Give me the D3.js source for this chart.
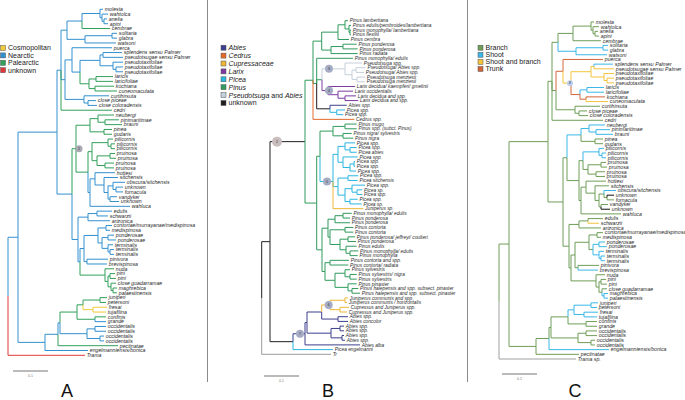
<!DOCTYPE html>
<html><head><meta charset="utf-8">
<script src="https://cdn.jsdelivr.net/npm/d3@7"></script>
<style>body{margin:0;background:#fff}svg{display:block}</style>
</head><body>
<svg id="c" width="685" height="400"></svg>
<script>
// ---------------- DATA ----------------
// Tip labels, in tree order (top to bottom)
const tipsA = ["molesta","wahtolca","anelia","apini","cembrae","solitaria","glabra","watsoni","puerca",
 "splendens sensu Palmer","pseudotsugae sensu Palmer","pseudotaxifoliae","pseudotaxifoliae","pseudotaxifoliae",
 "laricis","laricifoliae","kochiana","cuneomaculata","curtihirsuta","close piceae","close coloradensis","cedri",
 "neubergi","pinimaritimae","brauni","pinea","gudaris","pilicornis","pilicornis","pilicornis",
 "pruinosa","pruinosa","pruinosa","pruinosa","hottesi","sitchensis","obscura/sitchensis","unknown","fornacula",
 "vandykei","unknown","wahluca","edulis","schwarzii","arizonica","contortae/murrayanae/medispinosa","medispinosa",
 "ponderosae","ponderosae","terminalis","terminalis","terminalis","pinivora","brevispinosa","nuda","pini","pini",
 "close guadarramae","maghrebica","palaestinensis","juniperi","petersoni","fresai","tujafilina","confinis","grande",
 "occidentalis","occidentalis","occidentalis","occidentalis","pectinatae","engelmanniensis/bonica","Trama"];

const tipsC = tipsA.slice(0, 70).concat(["engelmanniensis/bonica","pectinatae","Trama sp."]);

const tipsB = ["Pinus lambertiana","Pinus edulis/pembroides/lambertiana","Pinus monophylla/ lambertiana","Pinus flexilis",
 "Pinus cembra","Pinus ponderosa","Pinus ponderosa","Pinus radiata","Pinus monophylla/ edulis","Pseudotsuga spp.",
 "Pseudotsuga/ Abies spp.","Pseudotsuga/ Abies spp.","Pseudotsuga menziesii","Pseudotsuga menziesii",
 "Larix decidua/ kaempferi/ gmelinii","Larix occidentalis","Larix decidua and spp.","Larix decidua and spp.",
 "Abies spp.","Picea spp.","Picea spp.","Cedrus spp.","Pinus mugo","Pinus spp. (subct. Pinus)","Pinus nigra/ sylvestris",
 "Pinus nigra","Picea spp.","Picea spp.","Picea abies","Picea spp.","Picea spp.","Picea spp.","Picea spp.","Picea spp.",
 "Picea sitchensis","Picea spp.","Picea sp.","Picea spp.","Picea spp.","Picea sp.","Juniperus sp.",
 "Pinus monophylla/ edulis","Pinus ponderosa","Pinus ponderosa","Pinus contorta","Pinus contorta",
 "Pinus ponderosa/ jeffreyi/ coulteri","Pinus ponderosa","Pinus edulis","Pinus monophylla/ edulis","Pinus monophylla",
 "Pinus contorta  and spp.","Pinus contorta/ radiata","Pinus sylvestris","Pinus sylvestris/ nigra","Pinus sylvestris",
 "Pinus pinaster","Pinus halepensis and spp. subsect. pinaster","Pinus halepensis and spp. subsect. pinaster",
 "Juniperus communis and spp.","Juniperus communis / horizontalis","Cupressus and Juniperus spp.",
 "Cupressus and Juniperus spp.","Abies spp.","Abies concolor","Abies spp.","Abies spp.","Abies spp.","Abies spp.",
 "Abies alba","Picea engelmanni","Tr"];

// Topologies (Newick-like: % = next tip label, letter = branch colour code, *N = numbered node mark,
// :v = branch length in units of 1/350 substitutions per site)
const treeA_top = "((((%:3,(%:6,(%:3,%:4):2):2):18,%p:28):15,((%:5,%:5):27,%:31):18):6," +
 "((%:40,(((%:19,%:20):3,(%:10,(%:7,%:7):3):13):20,((%:17,%:17):7,(%:19,%:22):6)p:9):8):7,(%:25,(%:8,%:9):4):19):4,%p:51):4";
const treeA_mid = "((((%:16,(%:14,%:17):7):8,(%:8,%:8):14):14,(((%:5,(%:4,%:4):3):16,((%:5,%:6):13,(%:9,%:9):8):5):4," +
 "((%:20,(%:14,((%:12,(%:7,%:7):3):5,(%:7,%:9):2):4):9):5,%:40)n:2):12)p*1:4," +
 "(((%:15,%:11):9,%:22):10,((((%:6,%:4):8,((%:6,%:8):6,(%:5,(%:4,%:4):2):6):4):14,(%:21,%:20):3):4," +
 "(%:9,((%:5,%:6):2,(%:5,(%:4,%:4):2):3):3)p:25):2):6):15";
const treeA_low = "((((((%:7,%:6):17,(%:14,%:13)c:10):6,(%:11,%n:11):18)p:17,((%:11,%:11):8,(%:4,%:4):13)n:27):2,%p:60):13,%:43):27";
const treeA = "(((" + treeA_top + "," + treeA_mid + "):39," + treeA_low + ")n:10,%u:77)";

const treeC_top = "((((%:3,(%:6,(%:3,%:4):2):2):18,%:28):15,((%:5,%:5):27,%:31)s:18):6," +
 "((%:40,(((%s:19,%:20):3,(%:10,(%:7,%:7):3):13):20,((%:17,%:17)s:7,(%:19,%y:22):6)t:9)y*8:8)t:7,(%:25,(%:8,%:9):4):19):4,%:51):4";
const treeC_mid = "((((%:16,(%:14,%:17):7):8,(%:8,%:8)b:14)s:14,(((%:5,(%:4,%:4):3)s:16,((%:5,%:6):13,(%:9,%:9):8):5):4," +
 "((%:20,(%:14,((%s:12,(%k:7,%:7):3):5,(%:7,%k:9):2):4):9):5,%:40):2):12):4," +
 "(((%:15,%y:11):9,%:22):10,((((%:6,%:4):8,((%:6,%:8)s:6,(%:5,(%:4,%:4):2)s:6):4):14,(%:21,%s:20):3):4," +
 "(%:9,((%:5,%:6):2,(%:5,(%:4,%:4)s:2):3):3):25):2):6):15";
const treeC_low = "((((((%:7,%:6):17,(%:14,%:13):10)s:6,(%:11,%:11):18):17,((%:11,%:11):8,(%:4,%:4):13):27):2,%s:60):13,%:43):27";
const treeC = "(((" + treeC_top + "," + treeC_mid + "):39," + treeC_low + ")b:10,%g:77)";

const treeB_upper = "((((%:3,(%:2,(%:1,%:1):1):4):7,%:11):16.3,((%:13.7,%:14.7):12,%:26.7):9.3):8.7," +
 "(%:36.3,((%:17,((%:9.7,%:8):4,(%:8,%:8):5):7)q*3:23,(%:27,(%:15,(%:11,%:13.3):7):10)l*4:6):5.3," +
 "(%a:16.7,(%:8.3,%:6.6)i:6.7)k:13.3):3.7,%d:41.3)p:8";
const treeB_lower = "((((%:11.7,%:11.7):12,(%:8.7,%:10.3):10):13," +
 "(((%:10,(%:6.7,%:6.7):5):7,(%:14.7,((%:1,%:1):4,%:6):7):5):5,((%:10.3,%:9.7):10,((%:13,(%:5.3,%:5.3):5):7,(%:7.7,%:11.7):5):7):5,%y:30.3)i*5:13):3.3," +
 "((((%:8.7,%:7):8,%:15):7,((%:8.3,%:8.3):15,((%:7,%:8):8,(%:10.7,(%:8.3,%:7.7):4):6):10):2):6," +
 "((%:19,%:18.3):5,((%:5,(%:6.7,%:6.7):5):10,(%:8.7,(%:6.3,%:8):4):13):10):3):5.3)p:11.7";
const treeB_abies = "((((((%:3,%:2):15,(%:9,%:7):10)y*6:8.3,(%:10,%:10):16.3):14.7,((%:4,%:4):9,(%:2,%:3):11):24):2,%:55)a*7:12,%i:40)k:23";
const treeB = "(((" + treeB_upper + "," + treeB_lower + ")k*2:35," + treeB_abies + ")k:8.3,%g:69.3)g";

// Legends
const legendA = ["Cosmopolitan","Nearctic","Palearctic","unknown"];
const legendAKeys = ["c","n","p","u"];
const legendB = ["Abies","Cedrus","Cupressaceae","Larix","Picea","Pinus","Pseudotsuga and Abies","unknown"];
const legendBKeys = ["a","d","y","l","i","p","q","k"];
const legendC = ["Branch","Shoot","Shoot and branch","Trunk"];
const legendCKeys = ["b","s","y","t"];

const panelLabels = ["A","B","C"];
const scaleLabel = "0.1";
const scaleUnits = 35; // branch-length units equal to 0.1 substitutions/site

// ---------------- STYLE ----------------
const palA = {n:"#3390d0", p:"#31a05a", c:"#f2cb3a", u:"#e0383a"};
const palB = {a:"#3c3f8e", d:"#e36a2a", y:"#edb736", l:"#7c3aa0", i:"#2bb6e0", p:"#2f9b5d", q:"#c4d0dc", k:"#1e1e1e", g:"#9a9a9a"};
const palC = {b:"#6f9e58", s:"#3ab7e8", y:"#f2c33c", t:"#d2663a", k:"#111111", g:"#a0a0a0"};
const FONT = "'Liberation Sans', Arial, Helvetica, sans-serif";

const svg = d3.select("#c");
const defs = svg.append("defs");

function parseTree(str, labels) {
  const s = str.replace(/\s+/g, "");
  let i = 0, li = 0;
  function node() {
    const n = {children: []};
    if (s[i] === "(") {
      i++; n.children.push(node());
      while (s[i] === ",") { i++; n.children.push(node()); }
      i++;
    } else if (s[i] === "%") { i++; n.name = labels[li++]; }
    let ann = "";
    while (i < s.length && !":,)".includes(s[i])) ann += s[i++];
    const m = ann.match(/^([a-z]?)(?:\*(\d+))?$/);
    if (m) { if (m[1]) n.code = m[1]; if (m[2]) n.mark = m[2]; }
    if (s[i] === ":") { i++; let num = ""; while (i < s.length && /[\d.]/.test(s[i])) num += s[i++]; n.len = +num; }
    return n;
  }
  return node();
}

function drawPanel(cfg) {
  const g = svg.append("g");
  if (cfg.clip) {
    defs.append("clipPath").attr("id", cfg.id + "clip").append("rect")
      .attr("x", cfg.clip[0]).attr("y", 0).attr("width", cfg.clip[1] - cfg.clip[0]).attr("height", 400);
    g.attr("clip-path", `url(#${cfg.id}clip)`);
  }
  const root = d3.hierarchy(parseTree(cfg.tree, cfg.tips));
  root.eachBefore(d => {
    d.dist = d.parent ? d.parent.dist + (d.data.len || 0) : 0;
    d.col = d.data.code ? cfg.pal[d.data.code] : (d.parent ? d.parent.col : "#888");
  });
  const leaves = root.leaves();
  const y = d3.scaleLinear().domain([0, leaves.length - 1]).range([cfg.y0, cfg.y1]);
  leaves.forEach((d, i) => d.yy = y(i));
  root.eachAfter(d => { if (d.children) d.yy = (d.children[0].yy + d.children[d.children.length - 1].yy) / 2; });
  const x = d3.scaleLinear().domain([0, 100]).range([cfg.x0, cfg.x0 + 100]);

  g.append("g").selectAll("path").data(root.descendants().filter(d => d.parent)).join("path")
    .attr("d", d => `M${x(d.parent.dist)},${d.parent.yy}V${d.yy}H${x(d.dist)}`)
    .attr("fill", "none").attr("stroke", d => d.col).attr("stroke-width", 1);

  g.append("g").selectAll("text").data(leaves).join("text")
    .attr("x", d => x(d.dist) + 1.8).attr("y", d => d.yy).attr("dy", "0.35em")
    .attr("font-family", FONT).attr("font-style", "italic").attr("font-size", cfg.fs)
    .attr("fill", "#2a2a2a").text(d => d.data.name);

  const marks = g.append("g").selectAll("g").data(root.descendants().filter(d => d.data.mark)).join("g")
    .attr("transform", d => `translate(${x(d.parent.dist) + 7},${d.yy})`);
  marks.append("circle").attr("r", d => d.data.mark === "2" ? 5 : cfg.mr)
    .attr("fill", d => d.data.mark === "2" ? "#c9bdbd" : cfg.mfill);
  marks.append("text").attr("text-anchor", "middle").attr("dy", "0.35em")
    .attr("font-family", FONT).attr("font-size", 3.5).attr("fill", "#333").text(d => d.data.mark);

  // scale bar
  const sb = g.append("g");
  sb.append("line").attr("x1", cfg.sb[0]).attr("x2", cfg.sb[0] + x(scaleUnits) - x(0))
    .attr("y1", cfg.sb[1]).attr("y2", cfg.sb[1]).attr("stroke", "#777").attr("stroke-width", 1);
  sb.append("text").attr("x", cfg.sb[0] + (x(scaleUnits) - x(0)) / 2).attr("y", cfg.sb[1] + 6)
    .attr("text-anchor", "middle").attr("font-family", FONT).attr("font-size", 3.5).attr("fill", "#777").text(scaleLabel);

  // legend
  const lg = svg.append("g").selectAll("g").data(cfg.legend).join("g")
    .attr("transform", (d, i) => `translate(${cfg.lg[0]},${cfg.lg[1] + i * cfg.lg[2]})`);
  lg.append("rect").attr("x", 0).attr("y", -2.5).attr("width", 5).attr("height", 5)
    .attr("fill", (d, i) => cfg.pal[cfg.legendKeys[i]]).attr("stroke", "#555").attr("stroke-width", 0.5);
  lg.each(function(d) {
    const t = d3.select(this).append("text").attr("x", 7.5).attr("dy", "0.35em")
      .attr("font-family", FONT).attr("font-size", 7).attr("fill", "#222");
    if (cfg.legendItalic && d !== "unknown") {
      const parts = d.split(" and ");
      parts.forEach((p, k) => {
        if (k > 0) t.append("tspan").attr("font-style", "normal").text(" and ");
        t.append("tspan").attr("font-style", "italic").text(p);
      });
    } else t.text(d);
  });

  svg.append("text").attr("x", cfg.pl[0]).attr("y", cfg.pl[1]).attr("text-anchor", "middle")
    .attr("font-family", FONT).attr("font-size", 18).attr("fill", "#111").text(cfg.label);
}

drawPanel({id: "A", tree: treeA, tips: tipsA, pal: palA, x0: 8, y0: 9.3, y1: 355.3, fs: 5.2,
  mr: 3.5, mfill: "#a9a9b4", sb: [13, 371], legend: legendA, legendKeys: legendAKeys, lg: [0.5, 48, 7.4],
  pl: [67, 397], label: panelLabels[0]});
drawPanel({id: "B", tree: treeB, tips: tipsB, pal: palB, x0: 261.7, y0: 20.7, y1: 354.3, fs: 4.8,
  mr: 4, mfill: "#a6acc4", sb: [264, 376], legend: legendB, legendKeys: legendBKeys, lg: [221, 47.7, 7.9],
  legendItalic: true, clip: [208, 466], pl: [328, 397], label: panelLabels[1]});
drawPanel({id: "C", tree: treeC, tips: tipsC, pal: palC, x0: 499, y0: 22, y1: 359, fs: 5.2,
  mr: 3, mfill: "#bcd0f2", sb: [502, 374], legend: legendC, legendKeys: legendCKeys, lg: [478, 47.7, 7.1],
  pl: [575, 397], label: panelLabels[2]});

// panel separators
svg.selectAll("line.sep").data([207.5, 467.5]).join("line").attr("class", "sep")
  .attr("x1", d => d).attr("x2", d => d).attr("y1", 0).attr("y2", 382)
  .attr("stroke", "#8a8a8a").attr("stroke-width", 1);
</script>
</body></html>
